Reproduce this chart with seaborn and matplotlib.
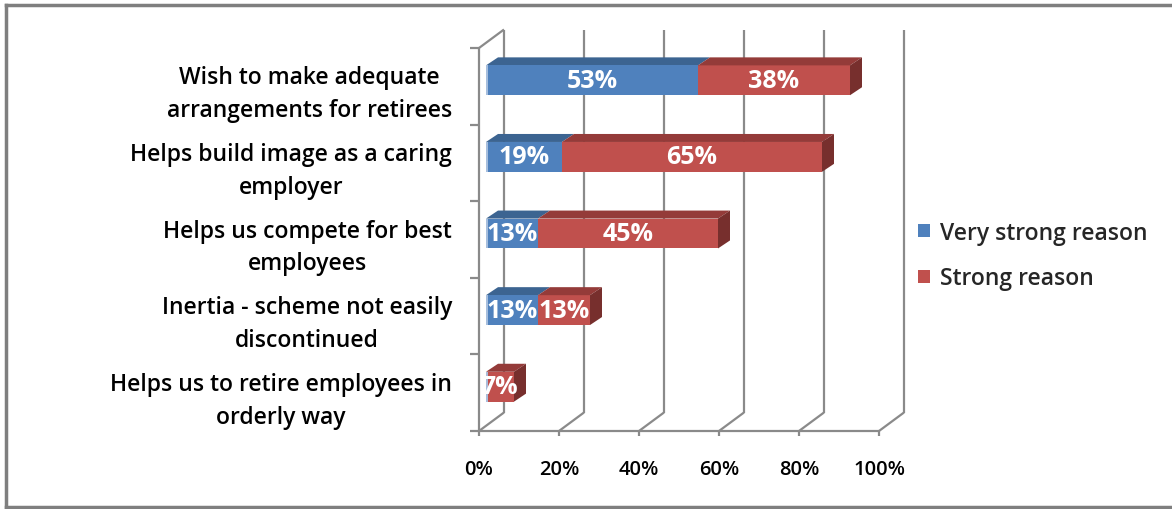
import matplotlib
matplotlib.use("Agg")
import matplotlib.pyplot as plt
import matplotlib.transforms as mtransforms
from matplotlib.patches import Polygon, Patch
from matplotlib.lines import Line2D
import pandas as pd
import seaborn as sns

categories = [
    "Wish to make adequate\narrangements for retirees",
    "Helps build image as a caring\nemployer",
    "Helps us compete for best\nemployees",
    "Inertia - scheme not easily\ndiscontinued",
    "Helps us to retire employees in\norderly way",
]
very_strong = [53, 19, 13, 13, 0]
strong = [38, 65, 45, 13, 7]
x_ticks = [0, 20, 40, 60, 80, 100]
x_tick_labels = ["0%", "20%", "40%", "60%", "80%", "100%"]
series_names = ["Very strong reason", "Strong reason"]

BLUE, BLUE_TOP, BLUE_EDGE = "#4F81BD", "#3C6491", "#A9C0DE"
RED, RED_TOP, RED_SIDE = "#C0504D", "#943B39", "#772F2D"
GRID = "#8A8A8A"

sns.set_theme(style="white")
plt.rcParams["font.family"] = ["Open Sans", "DejaVu Sans"]

W, H = 1172, 510
fig = plt.figure(figsize=(W / 100, H / 100), dpi=100)
fig.patch.set_facecolor("white")
# plot box: front x axis from px 479 to 879, front floor at px 432, top at px 49
ax = fig.add_axes([479 / W, (H - 432) / H, 400 / W, 383 / H])

df = pd.DataFrame({
    "category": categories,
    "very_strong": very_strong,
    "total": [a + b for a, b in zip(very_strong, strong)],
})

bar_w = 0.39
n0 = len(ax.patches)
sns.barplot(data=df, y="category", x="total", color=RED, saturation=1,
            width=bar_w, ax=ax, zorder=3)
sns.barplot(data=df, y="category", x="very_strong", color=BLUE, saturation=1,
            width=bar_w, ax=ax, zorder=3.1)
n = len(categories)
ax.set_xlim(0, 100)
ax.set_ylim(n - 0.5, -0.5)

# front faces sit a little behind the front plane
face_tr = mtransforms.offset_copy(ax.transData, fig=fig, x=7, y=6, units="dots")
for p in ax.patches[n0:]:
    p.set_transform(face_tr)
    p.set_linewidth(0)

# pixel offsets -> data deltas
sx = 400 / 100.0
sy = 383 / n


def d(dx_px, dy_px):
    return dx_px / sx, -dy_px / sy


bx, by = d(25, 18.5)      # back wall depth
ddx, ddy = d(12, 8)       # bar depth

line_kw = dict(color=GRID, lw=1.6, clip_on=False, zorder=1, solid_capstyle="butt")
bottom, top = n - 0.5, -0.5
for v in x_ticks:
    ax.plot([v + bx, v + bx], [bottom + by, top + by], **line_kw)
    ax.plot([v, v + bx], [bottom, bottom + by], **line_kw)
ax.plot([0, 100], [bottom, bottom], **line_kw)
ax.plot([0, 0], [bottom, top], **line_kw)
ax.plot([0, bx], [top, top + by], **line_kw)
# tick marks
tx, _ = d(9, 0)
for k in range(n + 1):
    yk = k - 0.5
    ax.plot([-tx, 0], [yk, yk], **line_kw)
_, ty = d(0, 5)
for v in x_ticks:
    ax.plot([v, v], [bottom, bottom - ty], **line_kw)

# bar tops, sides and value labels
for i in range(n):
    yt, yb = i - bar_w / 2, i + bar_w / 2
    segs = [(0, very_strong[i], BLUE_TOP), (very_strong[i], very_strong[i] + strong[i], RED_TOP)]
    for x0, x1, ctop in segs:
        if x1 - x0 <= 0:
            continue
        ax.add_patch(Polygon([(x0, yt), (x0 + ddx, yt + ddy), (x1 + ddx, yt + ddy), (x1, yt)],
                             closed=True, facecolor=ctop, lw=0, transform=face_tr,
                             clip_on=False, zorder=3))
    xe = very_strong[i] + strong[i]
    ax.add_patch(Polygon([(xe, yt), (xe + ddx, yt + ddy), (xe + ddx, yb + ddy), (xe, yb)],
                         closed=True, facecolor=RED_SIDE, lw=0, transform=face_tr,
                         clip_on=False, zorder=3))
    ax.plot([0.25, 0.25], [yt, yb], color=BLUE_EDGE, lw=1.4, transform=face_tr,
            clip_on=False, zorder=3.2, solid_capstyle="butt")
    for x0, val in [(0, very_strong[i]), (very_strong[i], strong[i])]:
        if val > 0:
            ax.text(x0 + val / 2, i, f"{val}%", transform=face_tr, ha="center",
                    va="center", color="white", fontsize=18, fontweight="bold",
                    zorder=5, clip_on=False)

# axis labels
ax.set_xlabel("")
ax.set_ylabel("")
ax.set_xticks(x_ticks)
ax.set_xticklabels(x_tick_labels, fontsize=14.5, fontweight="semibold", color="black")
ax.set_yticks(range(n))
ax.set_yticklabels(categories, fontsize=16.5, fontweight="semibold", color="black",
                   linespacing=1.5)
for t in ax.get_yticklabels():
    t.set_multialignment("center")
ax.tick_params(axis="x", length=0, pad=20)
ax.tick_params(axis="y", length=0, pad=19.4)
for s in ax.spines.values():
    s.set_visible(False)
ax.set_facecolor("none")

handles = [Patch(facecolor=BLUE, edgecolor="none"), Patch(facecolor=RED, edgecolor="none")]
fig.legend(handles, series_names, loc="center left",
           bbox_to_anchor=(918 / W, (H - 256.5) / H), frameon=False,
           prop=dict(size=16.5, weight="semibold"), handlelength=0.53, handleheight=0.53,
           handletextpad=0.45, labelspacing=0.95, borderpad=0, borderaxespad=0)

# chart border
bkw = dict(color="#7F7F7F", lw=2.5, transform=fig.transFigure, solid_capstyle="projecting")
fig.add_artist(Line2D([5.5 / W, 5.5 / W], [(H - 5.5) / H, (H - 507.5) / H], **bkw))
fig.add_artist(Line2D([5.5 / W, 1.0], [(H - 5.5) / H, (H - 5.5) / H], **bkw))
fig.add_artist(Line2D([5.5 / W, 1.0], [(H - 507.5) / H, (H - 507.5) / H], **bkw))

fig.savefig("out.png", dpi=100, facecolor="white")
